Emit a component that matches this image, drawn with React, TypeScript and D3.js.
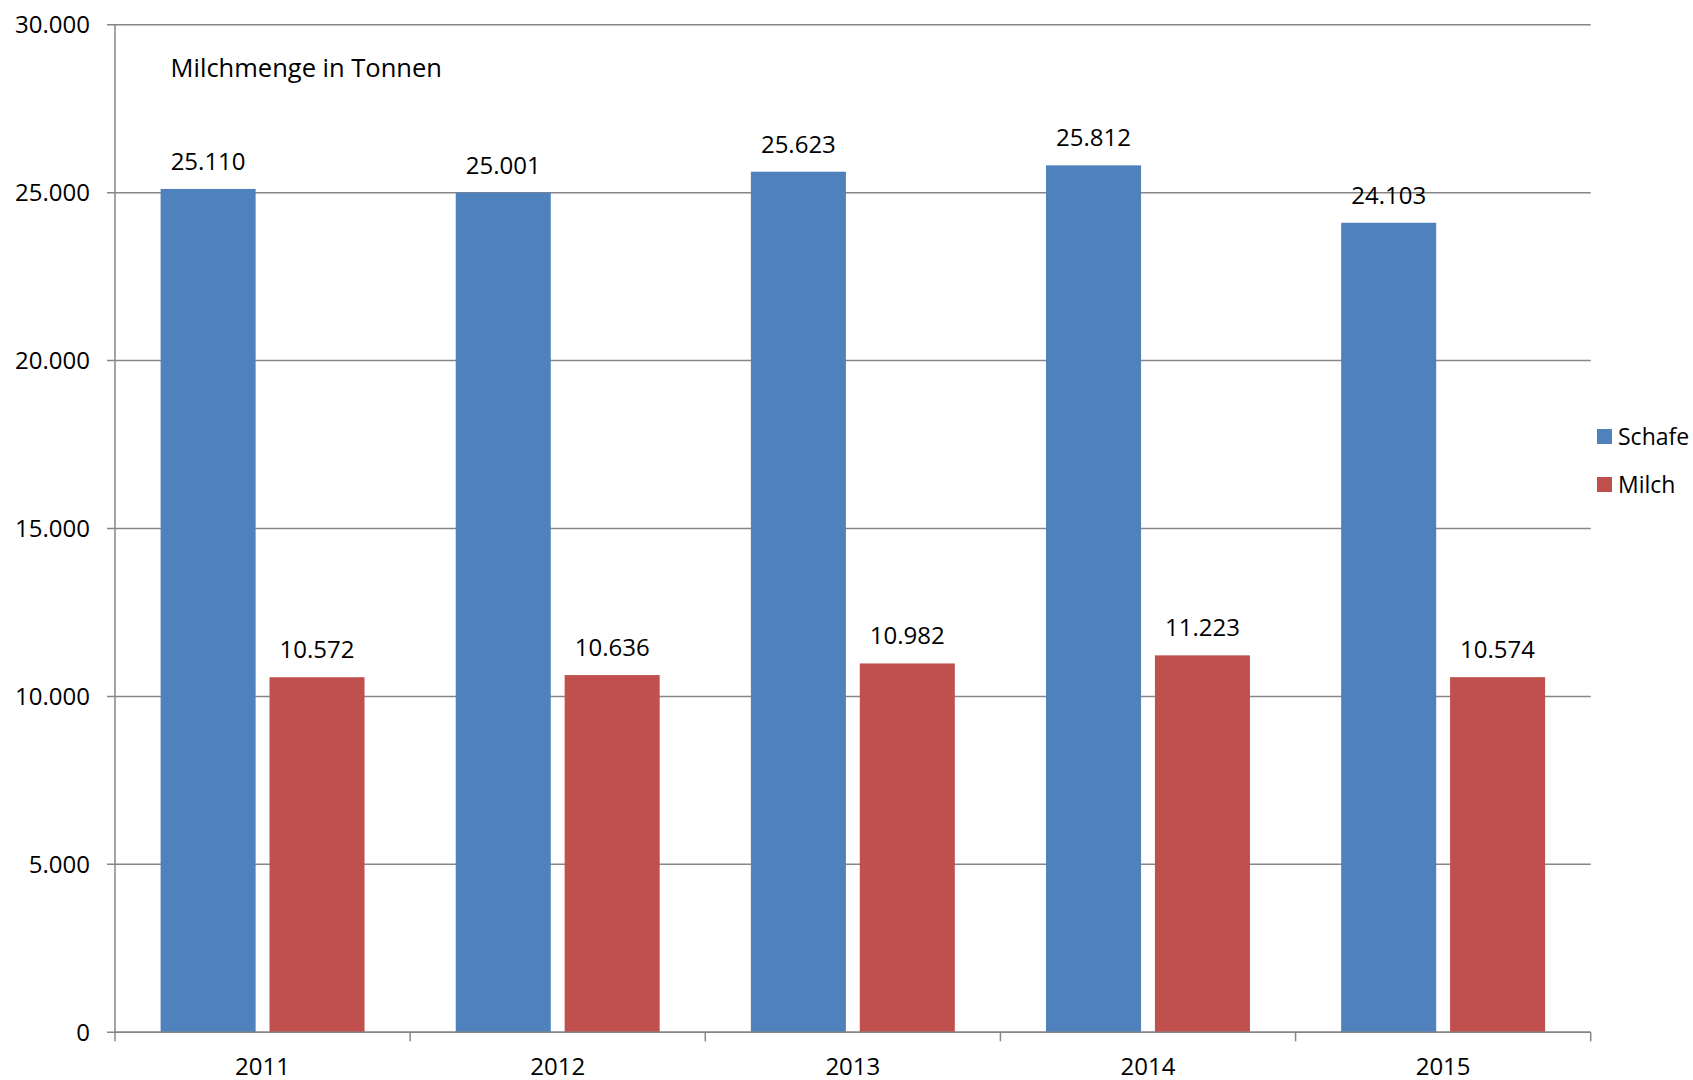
import React from "react";
import * as d3 from "d3";

const categories = ["2011", "2012", "2013", "2014", "2015"];
const schafe = [25110, 25001, 25623, 25812, 24103];
const milch = [10572, 10636, 10982, 11223, 10574];
const seriesNames = ["Schafe", "Milch"];
const seriesColors = ["#4F81BD", "#C0504D"];
const yTicks = [0, 5000, 10000, 15000, 20000, 25000, 30000];
const title = "Milchmenge in Tonnen";

const fmt = (v: number) => {
  const s = Math.round(v).toString();
  return s.replace(/\B(?=(\d{3})+(?!\d))/g, ".");
};

export default function App() {
  const W = 1693, H = 1080;
  const left = 115, right = 1590.7, top = 24.7, bottom = 1032.3;
  const font = "'Open Sans', sans-serif";
  const fs = 24;

  const x = d3.scaleBand<string>().domain(categories).range([left, right]).paddingInner(0).paddingOuter(0);
  const y = d3.scaleLinear().domain([0, 30000]).range([bottom, top]);
  const bw = x.bandwidth();
  const barW = bw * 0.322;
  const gap = bw * 0.047;
  const series = [schafe, milch];

  return (
    <svg width={W} height={H} style={{ position: "absolute", left: 0, top: 0, background: "#fff" }}>
      {yTicks.map((t) => (
        <g key={t}>
          <line x1={left - 8} x2={right} y1={y(t)} y2={y(t)} stroke="#868686" strokeWidth={1.5} />
          <text x={90} y={y(t) - 1} textAnchor="end" dominantBaseline="central" fontFamily={font} fontSize={fs} fill="#000">
            {fmt(t)}
          </text>
        </g>
      ))}
      <line x1={left} x2={left} y1={top} y2={bottom} stroke="#868686" strokeWidth={1.5} />
      {categories.map((c) => (
        <line key={"t" + c} x1={x(c)!} x2={x(c)!} y1={bottom} y2={bottom + 9} stroke="#868686" strokeWidth={1.5} />
      ))}
      <line x1={right} x2={right} y1={bottom} y2={bottom + 9} stroke="#868686" strokeWidth={1.5} />
      {categories.map((c, i) => {
        const cx = x(c)! + bw / 2;
        return (
          <g key={c}>
            {series.map((s, j) => {
              const bx = j === 0 ? cx - gap / 2 - barW : cx + gap / 2;
              return (
                <g key={j}>
                  <rect x={bx} y={y(s[i])} width={barW} height={bottom - y(s[i])} fill={seriesColors[j]} />
                  <text x={bx + barW / 2} y={y(s[i]) - 28.5} textAnchor="middle" dominantBaseline="central" fontFamily={font} fontSize={fs} fill="#000">
                    {fmt(s[i])}
                  </text>
                </g>
              );
            })}
            <text x={cx} y={1065} textAnchor="middle" dominantBaseline="central" fontFamily={font} fontSize={fs} fill="#000">
              {c}
            </text>
          </g>
        );
      })}
      <line x1={left} x2={right} y1={bottom} y2={bottom} stroke="#868686" strokeWidth={1.5} />
      <text x={170.6} y={67} dominantBaseline="central" fontFamily={font} fontSize={25.5} fill="#000">
        {title}
      </text>
      {seriesNames.map((n, j) => (
        <g key={n}>
          <rect x={1597} y={429 + j * 48} width={15} height={15} fill={seriesColors[j]} />
          <text x={1618} y={435.5 + j * 48} dominantBaseline="central" fontFamily={font} fontSize={23} fill="#000">
            {n}
          </text>
        </g>
      ))}
    </svg>
  );
}
